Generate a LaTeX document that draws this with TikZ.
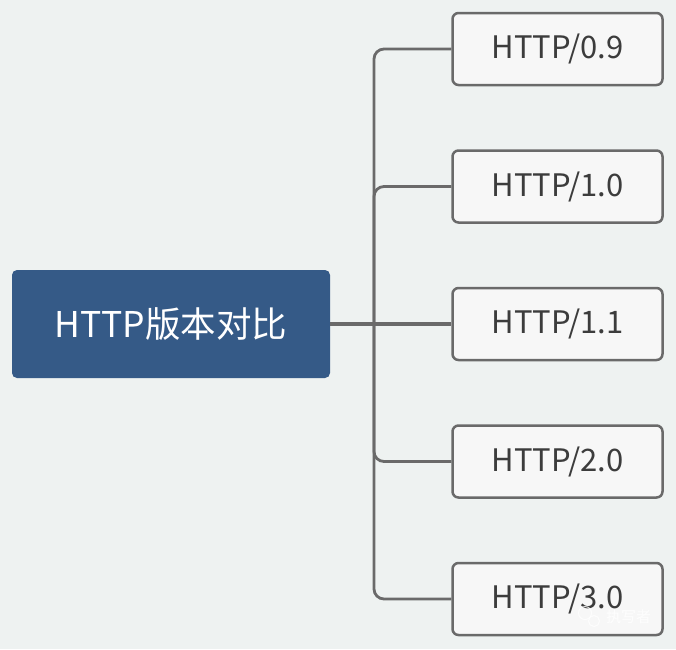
\documentclass[tikz,border=0pt]{standalone}
\usepackage{fontspec}
\setmainfont{Noto Sans CJK SC}
\newfontfamily\cjk{Noto Sans CJK SC}
\definecolor{bgc}{HTML}{EEF2F1}
\definecolor{rootc}{HTML}{355A87}
\definecolor{linec}{HTML}{6A6A6A}
\definecolor{boxc}{HTML}{F7F7F7}
\definecolor{txtc}{HTML}{3C3C3C}
\tikzset{
  rootbox/.style={fill=rootc, rounded corners=5pt, minimum width=318pt, minimum height=108pt, inner sep=0pt, text=white, font=\cjk\fontsize{35.5}{40}\selectfont},
  childbox/.style={fill=boxc, draw=linec, line width=2.5pt, rounded corners=6pt, minimum width=210pt, minimum height=72pt, inner sep=0pt, text=txtc, font=\cjk\fontsize{31}{36}\selectfont},
  conn/.style={draw=linec, line width=2.8pt, rounded corners=10pt},
}
\begin{document}
\begin{tikzpicture}[x=1pt,y=-1pt]
\fill[bgc] (0,0) rectangle (676,649);
\useasboundingbox (0,0) rectangle (676,649);
\node[rootbox] (root) at (171,324) {HTTP版本对比};
\coordinate (trunk) at (374,324);
\node[childbox] (c1) at (557.5,49) {HTTP/0.9};
\node[childbox] (c2) at (557.5,186.5) {HTTP/1.0};
\node[childbox] (c3) at (557.5,324) {HTTP/1.1};
\node[childbox] (c4) at (557.5,461.5) {HTTP/2.0};
\node[childbox] (c5) at (557.5,599) {HTTP/3.0};
\draw[conn] (trunk) |- (c1.west);
\draw[conn] (trunk) |- (c2.west);
\draw[conn, line width=3.4pt] (root.east) -- (c3.west);
\draw[conn] (trunk) |- (c4.west);
\draw[conn] (trunk) |- (c5.west);
\node[text=white, opacity=0.85, font=\cjk\fontsize{15}{18}\selectfont, anchor=west, inner sep=0pt] (wm) at (606,617) {执写者};
\node[draw=white, opacity=0.8, circle, line width=1pt, minimum size=13pt, inner sep=0pt] (wmi1) at (585,613) {};
\node[draw=white, opacity=0.8, circle, line width=1pt, minimum size=11pt, inner sep=0pt] (wmi2) at (594,621) {};
\end{tikzpicture}
\end{document}
